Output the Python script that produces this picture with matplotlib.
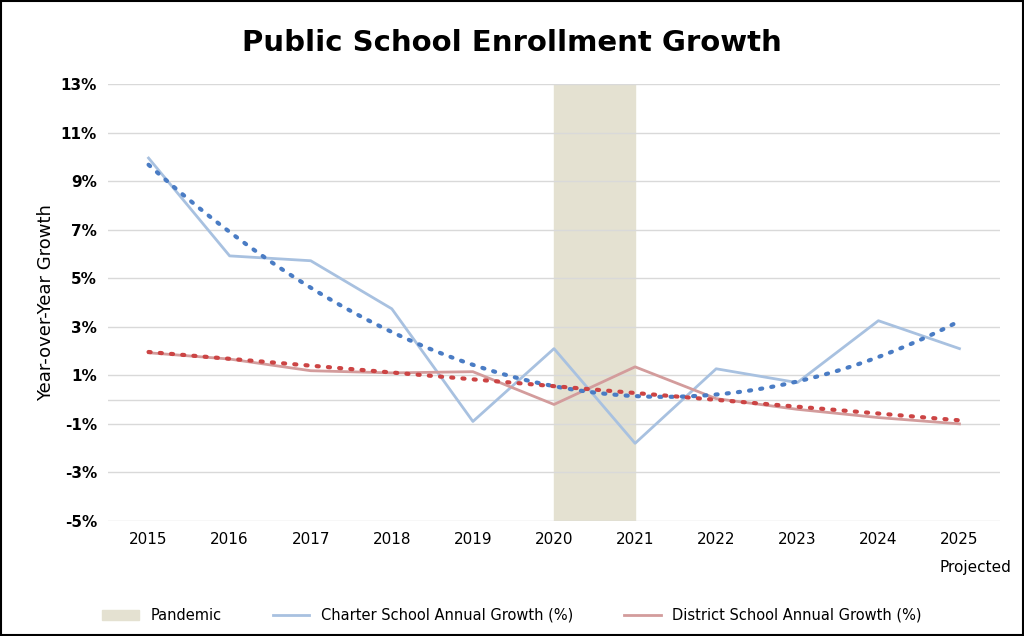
import matplotlib
matplotlib.use("Agg")
import matplotlib.pyplot as plt
import numpy as np

years = [2015, 2016, 2017, 2018, 2019, 2020, 2021, 2022, 2023, 2024, 2025]
xlabels = ["2015", "2016", "2017", "2018", "2019", "2020", "2021", "2022", "2023", "2024", "2025"]
charter = [9.95, 5.92, 5.72, 3.74, -0.9, 2.1, -1.8, 1.27, 0.7, 3.25, 2.1]
district = [1.93, 1.67, 1.19, 1.1, 1.15, -0.2, 1.35, 0.04, -0.4, -0.74, -1.0]
yticks = [-5, -3, -1, 1, 3, 5, 7, 9, 11, 13]

plt.rcParams['font.family'] = ['DejaVu Sans']
fig = plt.figure(figsize=(10.24, 6.36), dpi=100)
ax = fig.add_axes([108/1024, 1-521/636, (1000-108)/1024, (521-84)/636])

x = np.array(years, dtype=float)
ax.axvspan(2020, 2021, color="#e4e1d1", zorder=0, label="Pandemic")
ax.plot(x, charter, color="#a8c1e0", lw=2, label="Charter School Annual Growth (%)", zorder=3)
ax.plot(x, district, color="#d39c9c", lw=2, label="District School Annual Growth (%)", zorder=3)

xs = np.linspace(2015, 2025, 200)
pc = np.polyfit(x - 2020, charter, 2)
pd_ = np.polyfit(x - 2020, district, 1)
ax.plot(xs, np.polyval(pc, xs - 2020), color="#4a7cc4", lw=3, ls=(0, (0.5, 2.2)), dash_capstyle="round", zorder=4)
ax.plot(xs, np.polyval(pd_, xs - 2020), color="#cc4444", lw=3, ls=(0, (0.5, 2.2)), dash_capstyle="round", zorder=4)

ax.set_xlim(2014.5, 2025.5)
ax.set_ylim(-5, 13)
ax.set_yticks(yticks)
ax.set_yticklabels([f"{t}%" for t in yticks], fontsize=11, fontweight="bold")
ax.set_xticks(years)
ax.set_xticklabels(xlabels, fontsize=11)
ax.text(2025.2, -6.6, "Projected", fontsize=11, ha="center", va="top")
ax.tick_params(length=0, pad=8)
ax.grid(axis="y", color="#d9d9d9", lw=1)
ax.axhline(0, color="#d9d9d9", lw=1, zorder=1)
ax.set_axisbelow(True)
for s in ax.spines.values():
    s.set_visible(False)
ax.set_ylabel("Year-over-Year Growth", fontsize=13)

fig.suptitle("Public School Enrollment Growth", fontsize=21, fontweight="bold", y=0.955)
fig.legend(loc="lower center", ncol=3, frameon=False, fontsize=10.5, bbox_to_anchor=(0.5, 0.0),
           handlelength=2.5, columnspacing=3.5)
fig.patches.append(plt.Rectangle((0.001, 0.001), 0.998, 0.997, transform=fig.transFigure,
                                 fill=False, ec="black", lw=1.5))
fig.savefig("out.png", dpi=100)
